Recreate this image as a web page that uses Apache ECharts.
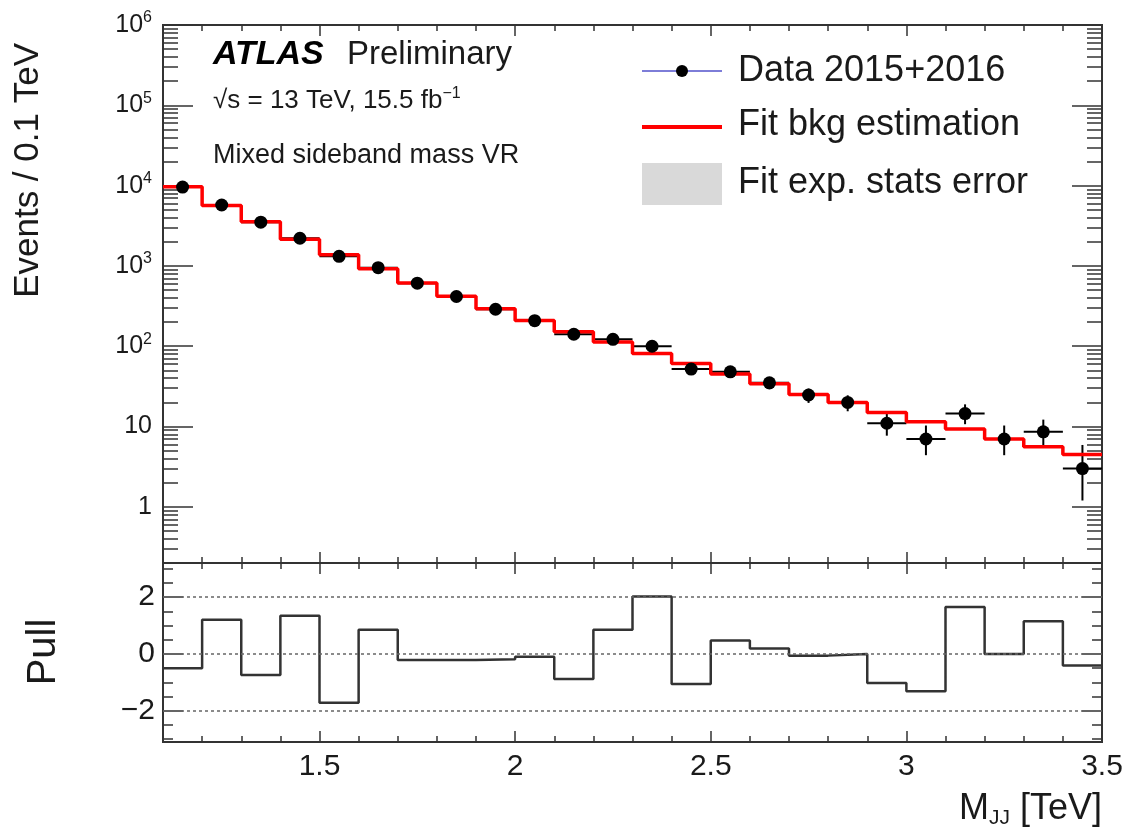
<!DOCTYPE html>
<html>
<head>
<meta charset="utf-8">
<script src="https://cdn.jsdelivr.net/npm/echarts@6/dist/echarts.min.js"></script>
<style>
  html, body { margin: 0; background: #fff; }
  #demo { width: 1130px; height: 828px; }
</style>
</head>
<body>
<div id="demo"></div>
<script>
// M_JJ bins, 0.1 TeV wide
const binEdges = [1.1, 1.2, 1.3, 1.4, 1.5, 1.6, 1.7, 1.8, 1.9, 2.0, 2.1, 2.2, 2.3,
  2.4, 2.5, 2.6, 2.7, 2.8, 2.9, 3.0, 3.1, 3.2, 3.3, 3.4, 3.5]
const dataCounts = [9600, 5740, 3510, 2210, 1316, 951, 610, 416, 289, 208, 141, 122,
  100, 52, 48, 35, 24.7, 20, 11, 7, 14.5, 7, 8.6, 3]
const dataErrLow = [98, 76, 59, 47, 36, 31, 25, 20, 17, 14.4, 11.9, 11, 10, 7.2, 6.9,
  5.9, 5, 4.5, 3.3, 2.6, 3.8, 2.6, 2.9, 1.8]
const dataErrHigh = [98, 76, 59, 47, 36, 31, 25, 20, 17, 14.4, 11.9, 11, 10, 7.2, 6.9,
  5.9, 5, 4.5, 3.9, 3.3, 4.4, 3.3, 3.6, 2.9]
const fitCounts = [9650, 5650, 3555, 2150, 1378, 925, 615, 420, 292, 209.5, 152, 113,
  81, 61, 45, 34, 25, 20, 15, 11.5, 9.3, 7, 5.6, 4.5]
const pullValues = [-0.5, 1.2, -0.74, 1.34, -1.72, 0.85, -0.21, -0.21, -0.19, -0.1,
  -0.88, 0.85, 2.02, -1.06, 0.47, 0.19, -0.06, 0.0, -1.02, -1.31, 1.65, 0.0, 1.15, -0.41]
const pullRefLines = [2, 0, -2]

// axis ticks
const xMajorTicks = [1.5, 2, 2.5, 3, 3.5]
const yLogTicks = [1, 10, 100, 1000, 10000, 100000, 1000000]
const pullMajorTicks = [-2, 0, 2]
const pullMinorTicks = [-3, -2.5, -1.5, -1, -0.5, 0.5, 1, 1.5, 2.5, 3]

const FONT = 'Liberation Sans'
const INK = '#1a1a1a'
const xMinorTicks = binEdges.filter(v => xMajorTicks.indexOf(v) < 0)
const yLogMinor = []
for (let e = -1; e < 6; e++) {
  for (let m = 2; m <= 9; m++) {
    const v = m * Math.pow(10, e)
    if (v > 0.2) yLogMinor.push(v)
  }
}

const binCenters = fitCounts.map((_, i) => (binEdges[i] + binEdges[i + 1]) / 2)
const stepPoints = vals => {
  const pts = []
  vals.forEach((v, i) => {
    pts.push([binEdges[i], v])
    pts.push([binEdges[i + 1], v])
  })
  return pts
}

function xTicks (gridIndex, position, values, length, label) {
  return {
    type: 'value', gridIndex, position, min: 1.1, max: 3.5,
    axisLine: { show: false, onZero: false },
    splitLine: { show: false },
    axisTick: { inside: true, length, customValues: values, lineStyle: { color: '#333', width: 1.5 } },
    axisLabel: label || { show: false }
  }
}
function yTicks (gridIndex, position, base, values, length, label) {
  return Object.assign({
    gridIndex, position,
    axisLine: { show: false, onZero: false },
    splitLine: { show: false },
    axisTick: { inside: true, length, customValues: values, lineStyle: { color: '#333', width: 1.5 } },
    axisLabel: label || { show: false }
  }, base)
}

const logBase = { type: 'log', logBase: 10, min: 0.2, max: 1000000 }
const pullBase = { type: 'value', min: -3.1, max: 3.2 }

function renderErrorBar (params, api) {
  const x = api.value(0)
  const y = api.value(1)
  const half = api.value(4)
  const pLo = api.coord([x, y - api.value(2)])
  const pHi = api.coord([x, y + api.value(3)])
  const pL = api.coord([x - half, y])
  const pR = api.coord([x + half, y])
  const style = { stroke: '#000', lineWidth: 2 }
  return {
    type: 'group',
    children: [
      { type: 'line', shape: { x1: pLo[0], y1: pLo[1], x2: pHi[0], y2: pHi[1] }, style },
      { type: 'line', shape: { x1: pL[0], y1: pL[1], x2: pR[0], y2: pR[1] }, style }
    ]
  }
}

const chart = echarts.init(document.getElementById('demo'))
const option = {
  animation: false,
  backgroundColor: '#fff',
  grid: [
    { left: 163, top: 25, width: 939, height: 538, show: true, borderColor: '#333', borderWidth: 2 },
    { left: 163, top: 563, width: 939, height: 179, show: true, borderColor: '#333', borderWidth: 2 }
  ],
  xAxis: [
    xTicks(0, 'bottom', xMajorTicks, 11),
    xTicks(0, 'bottom', xMinorTicks, 6),
    xTicks(0, 'top', xMajorTicks, 11),
    xTicks(0, 'top', xMinorTicks, 6),
    xTicks(1, 'bottom', xMajorTicks, 11, {
      customValues: xMajorTicks, margin: 10, fontSize: 30, fontFamily: FONT, color: INK,
      formatter: v => String(v)
    }),
    xTicks(1, 'bottom', xMinorTicks, 6),
    xTicks(1, 'top', xMajorTicks, 11),
    xTicks(1, 'top', xMinorTicks, 6)
  ],
  yAxis: [
    yTicks(0, 'left', logBase, yLogTicks, 30, {
      customValues: yLogTicks, margin: 11,
      formatter: v => {
        const e = Math.round(Math.log10(v))
        if (e === 0) return '{a|1}'
        if (e === 1) return '{a|10}'
        return '{a|10}{b|' + e + '}'
      },
      rich: {
        a: { fontSize: 25, fontFamily: FONT, color: INK, lineHeight: 30 },
        b: { fontSize: 16, fontFamily: FONT, color: INK, verticalAlign: 'top', lineHeight: 16 }
      }
    }),
    yTicks(0, 'left', logBase, yLogMinor, 15),
    yTicks(0, 'right', logBase, yLogTicks, 30),
    yTicks(0, 'right', logBase, yLogMinor, 15),
    yTicks(1, 'left', pullBase, pullMajorTicks, 20, {
      customValues: pullMajorTicks, margin: 8, fontSize: 30, fontFamily: FONT, color: INK,
      formatter: v => (v < 0 ? '\u2212' + Math.abs(v) : String(v))
    }),
    yTicks(1, 'left', pullBase, pullMinorTicks, 10),
    yTicks(1, 'right', pullBase, pullMajorTicks, 20),
    yTicks(1, 'right', pullBase, pullMinorTicks, 10)
  ],
  series: [
    {
      name: 'Data error',
      type: 'custom',
      xAxisIndex: 0,
      yAxisIndex: 0,
      z: 2,
      renderItem: renderErrorBar,
      data: dataCounts.map((v, i) => [binCenters[i], v, dataErrLow[i], dataErrHigh[i],
        (binEdges[i + 1] - binEdges[i]) / 2])
    },
    {
      name: 'Fit bkg estimation',
      type: 'line',
      xAxisIndex: 0,
      yAxisIndex: 0,
      z: 3,
      showSymbol: false,
      lineStyle: { color: '#ff0000', width: 3.5 },
      data: stepPoints(fitCounts)
    },
    {
      name: 'Data 2015+2016',
      type: 'scatter',
      xAxisIndex: 0,
      yAxisIndex: 0,
      z: 4,
      symbolSize: 13,
      itemStyle: { color: '#000', opacity: 1 },
      data: dataCounts.map((v, i) => [binCenters[i], v])
    },
    {
      name: 'Pull',
      type: 'line',
      xAxisIndex: 4,
      yAxisIndex: 4,
      showSymbol: false,
      lineStyle: { color: '#333', width: 2.5 },
      data: stepPoints(pullValues),
      markLine: {
        silent: true,
        symbol: ['none', 'none'],
        label: { show: false },
        lineStyle: { color: '#666', type: [3, 3], width: 1.5 },
        data: pullRefLines.map(v => ({ yAxis: v }))
      }
    }
  ],
  graphic: [
    { type: 'text', x: 213, y: 55, style: { text: 'ATLAS', font: 'italic bold 34px ' + FONT, fill: '#000', verticalAlign: 'middle' } },
    { type: 'text', x: 347, y: 55, style: { text: 'Preliminary', font: '33px ' + FONT, fill: INK, verticalAlign: 'middle' } },
    {
      type: 'text', x: 213, y: 101,
      style: {
        text: '{t|\u221As = 13 TeV, 15.5 fb}{u|\u22121}', verticalAlign: 'middle',
        rich: {
          t: { font: '26px ' + FONT, fill: INK, lineHeight: 30 },
          u: { font: '16px ' + FONT, fill: INK, verticalAlign: 'top', lineHeight: 16 }
        }
      }
    },
    { type: 'text', x: 213, y: 156, style: { text: 'Mixed sideband mass VR', font: '27px ' + FONT, fill: INK, verticalAlign: 'middle' } },

    { type: 'line', shape: { x1: 642, y1: 71, x2: 722, y2: 71 }, style: { stroke: '#7d7dd8', lineWidth: 2 } },
    { type: 'circle', shape: { cx: 682, cy: 71, r: 6 }, style: { fill: '#000' } },
    { type: 'text', x: 738, y: 71, style: { text: 'Data 2015+2016', font: '36px ' + FONT, fill: INK, verticalAlign: 'middle' } },
    { type: 'line', shape: { x1: 642, y1: 127, x2: 722, y2: 127 }, style: { stroke: '#ff0000', lineWidth: 4 } },
    { type: 'text', x: 738, y: 125, style: { text: 'Fit bkg estimation', font: '36px ' + FONT, fill: INK, verticalAlign: 'middle' } },
    { type: 'rect', shape: { x: 642, y: 163, width: 80, height: 42 }, style: { fill: '#d9d9d9' } },
    { type: 'text', x: 738, y: 183, style: { text: 'Fit exp. stats error', font: '36px ' + FONT, fill: INK, verticalAlign: 'middle' } },

    {
      type: 'text', x: 46, y: 43, rotation: Math.PI / 2,
      style: { text: 'Events / 0.1 TeV', font: '35px ' + FONT, fill: INK, align: 'right', verticalAlign: 'bottom' }
    },
    {
      type: 'text', x: 64, y: 652, rotation: Math.PI / 2,
      style: { text: 'Pull', font: '40px ' + FONT, fill: INK, align: 'center', verticalAlign: 'bottom' }
    },
    {
      type: 'text', x: 1102, y: 809,
      style: {
        text: '{m|M}{s|JJ}{m| [TeV]}', align: 'right', verticalAlign: 'middle',
        rich: {
          m: { font: '36px ' + FONT, fill: INK, lineHeight: 40 },
          s: { font: '21px ' + FONT, fill: INK, verticalAlign: 'bottom', lineHeight: 16 }
        }
      }
    }
  ]
}
chart.setOption(option)
</script>
</body>
</html>
